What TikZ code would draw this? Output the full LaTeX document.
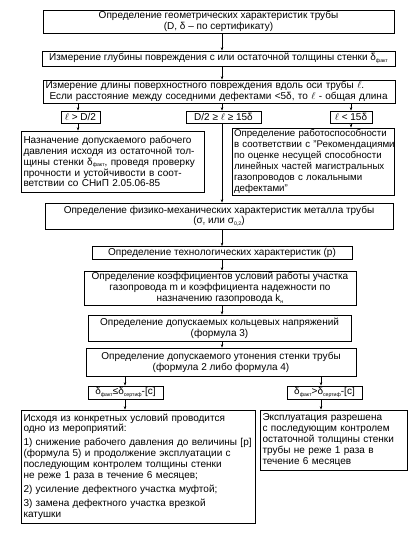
\documentclass[tikz,border=0pt]{standalone}
\usepackage{fontspec}
\setmainfont{Liberation Sans}
\usetikzlibrary{arrows.meta}
\newcommand\sbs[1]{\raisebox{-1.6pt}{\fontsize{5.2}{5.2}\selectfont #1}}
\begin{document}
\begin{tikzpicture}[x=1pt,y=-1pt,
  box/.style={draw, line width=0.6pt, inner xsep=2.5pt, inner ysep=1pt, align=center,
    font=\fontsize{10}{10.9}\selectfont},
  lbox/.style={box, align=left},
  lbl/.style={box, inner ysep=0.5pt},
  arr/.style={-{Stealth[length=3.5pt,width=2.4pt]}, line width=0.5pt}]
\useasboundingbox (0,0) rectangle (417,533);
\fill[white] (0,0) rectangle (417,533);
\coordinate (spine) at (222,0);
\coordinate (colL) at (78,0);
\coordinate (colR) at (351,0);
\coordinate (colBL) at (125,0);
\coordinate (colBR) at (321,0);

\node[box, minimum width=351pt, minimum height=23pt] (b1) at (218.5,21.5)
  {Определение геометрических характеристик трубы\\(D, δ -- по сертификату)};
\node[box, minimum width=353pt, minimum height=15pt] (b2) at (218.5,58.5)
  {Измерение глубины повреждения с или остаточной толщины стенки δ\sbs{факт}};
\node[box, text width=347pt, minimum height=23pt, align=left] (b3) at (219,91.5)
  {\makebox[347pt][s]{Измерение длины поверхностного повреждения вдоль оси трубы $\ell$.}\\
   \hspace*{4pt}\makebox[343pt][s]{Если расстояние между соседними дефектами <5δ, то $\ell$ - общая длина}};

\node[lbl, minimum width=39pt, minimum height=12pt] (lL) at (80.5,117) {$\ell$ > D/2};
\node[lbl, minimum width=75pt, minimum height=12pt] (lM) at (223.5,117) {D/2 ≥ $\ell$ ≥ 15δ};
\node[lbl, minimum width=42pt, minimum height=12pt] (lR) at (351,117) {$\ell$ < 15δ};

\node[lbox, text width=178pt, minimum height=61pt] (bL) at (112.5,161.5)
  {Назначение допускаемого рабочего\\давления исходя из остаточной тол-\\щины стенки δ\sbs{факт}, проведя проверку\\прочности и устойчивости в соот-\\ветствии со СНиП 2.05.06-85};
\node[lbox, text width=158pt, inner xsep=2pt, minimum height=67pt,
      font=\fontsize{9.7}{10.9}\selectfont] (bR) at (313,161.5)
  {\mbox{Определение работоспособности}\\\mbox{в соответствии с "Рекомендациями}\\\mbox{по оценке несущей способности}\\\mbox{линейных частей магистральных}\\\mbox{газопроводов с локальными}\\\mbox{дефектами"}};

\node[box, minimum width=348pt, minimum height=26pt] (b4) at (219,216)
  {Определение физико-механических характеристик металла трубы\\(σ\sbs{т} или σ\sbs{0,2})};
\node[box, minimum width=260pt, minimum height=13pt, inner ysep=0pt] (b5) at (222,253)
  {Определение технологических характеристик (p)};
\node[box, minimum width=272pt, minimum height=34pt] (b6) at (220,288)
  {Определение коэффициентов условий работы участка\\газопровода m и коэффициента надежности по\\назначению газопровода k\sbs{н}};
\node[box, minimum width=263pt, minimum height=26pt] (b7) at (219.5,328)
  {Определение допускаемых кольцевых напряжений\\(формула 3)};
\node[box, minimum width=270pt, minimum height=28pt] (b8) at (221,362)
  {Определение допускаемого утонения стенки трубы\\(формула 2 либо формула 4)};

\node[lbl, minimum width=75pt, minimum height=13pt] (lBL) at (125.5,392.5)
  {δ\sbs{факт}≤δ\sbs{сертиф}-[c]};
\node[lbl, minimum width=75pt, minimum height=13pt] (lBR) at (324.5,392.5)
  {δ\sbs{факт}>δ\sbs{сертиф}-[c]};

\node[lbox, text width=229pt, minimum height=113pt] (bBL) at (138,466.5)
  {Исходя из конкретных условий проводится\\одно из мероприятий:\\[3pt]
   1) снижение рабочего давления до величины [p]\\(формула 5) и продолжение эксплуатации с\\последующим контролем толщины стенки\\не реже 1 раза в течение 6 месяцев;\\[3pt]
   2) усиление дефектного участка муфтой;\\[3pt]
   3) замена дефектного участка врезкой\\катушки};
\node[lbox, text width=142pt, minimum height=60pt] (bBR) at (333.5,440)
  {Эксплуатация разрешена\\с последующим контролем\\остаточной толщины стенки\\трубы не реже 1 раза в\\течение 6 месяцев};

\draw[arr] (b1.south -| spine) -- (b2.north -| spine);
\draw[arr] (b2.south -| spine) -- (b3.north -| spine);
\draw[arr] (b3.south -| colL) -- (lL.north -| colL);
\draw[arr] (b3.south -| spine) -- (lM.north -| spine);
\draw[arr] (b3.south -| colR) -- (lR.north -| colR);
\draw[arr] (lL.south -| colL) -- (bL.north -| colL);
\draw[arr] (lR.south -| colR) -- (bR.north -| colR);
\draw[arr] (lM.south -| spine) -- (b4.north -| spine);
\draw[arr] (b4.south -| spine) -- (b5.north -| spine);
\draw[arr] (b5.south -| spine) -- (b6.north -| spine);
\draw[arr] (b6.south -| spine) -- (b7.north -| spine);
\draw[arr] (b7.south -| spine) -- (b8.north -| spine);
\draw[arr] (b8.south -| colBL) -- (lBL.north -| colBL);
\draw[arr] (b8.south -| colBR) -- (lBR.north -| colBR);
\draw[arr] (lBL.south -| colBL) -- (bBL.north -| colBL);
\draw[arr] (lBR.south -| colBR) -- (bBR.north -| colBR);
\end{tikzpicture}
\end{document}
